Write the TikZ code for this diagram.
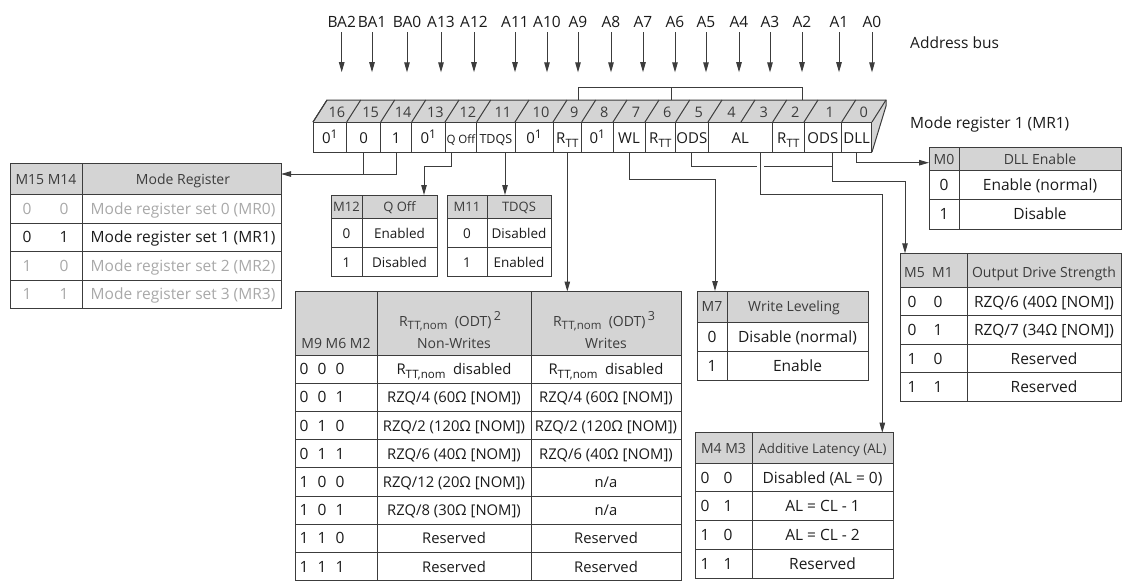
\documentclass[tikz,border=0pt]{standalone}
\usepackage{fontspec}
\setmainfont{Open Sans}
\usetikzlibrary{arrows.meta}
\definecolor{rulegray}{HTML}{3C3C3C}
\definecolor{hdrgray}{HTML}{D4D4D4}
\definecolor{faint}{HTML}{A8A8A8}
\definecolor{ink}{HTML}{1A1A1A}
\newcommand{\fsz}[1]{\fontsize{#1}{#1}\selectfont}
\newcommand{\Rtt}[1]{R\raisebox{-0.45ex}{\fsz{11.5}#1}}
\newcommand{\zsup}{0\raisebox{0.6ex}{\fsz{12}1}}
\newcommand{\odtsup}[1]{\raisebox{0.8ex}{\fsz{12.5}#1}}

\begin{document}
\begin{tikzpicture}[x=1pt,y=-1pt,
    wire/.style={draw=rulegray, line width=1pt},
    feed/.style={wire, -{Triangle[length=10pt,width=5.5pt]}},
    tabline/.style={draw=rulegray, line width=0.9pt},
    txt/.style={anchor=base, inner sep=0pt, text=ink, font=\fsz{15.5}},
    hd/.style={txt, text=rulegray, font=\fsz{14}},
    sm/.style={txt, font=\fsz{13.5}},
    cellbox/.style={draw=rulegray, line width=0.9pt, fill=white, inner sep=0pt,
      minimum height=30pt, text height=13pt, text depth=0pt, text=ink, font=\fsz{15}}]
    \useasboundingbox (0,0) rectangle (1127,582);

    % --- address bus ---
    \foreach \nm/\xx in {BA2/341.7, BA1/372, BA0/407, A13/441, A12/474, A11/515, A10/547, A9/578,
        A8/611, A7/643, A6/675, A5/706, A4/739, A3/770, A2/802, A1/839, A0/872} {
      \node[txt, font=\fsz{15.5}] (ad\nm) at (\xx,27) {\nm};
      \draw[feed] ([yshift=-5pt]ad\nm.south) -- ++(0,40);
    }
    \node[txt, anchor=base west] (busname) at (910,48) {Address bus};
    \node[txt, anchor=base west] (regname) at (910,128) {Mode register 1 (MR1)};

    % --- register (MR1) ---
    \fill[hdrgray] (313,122) -- (327,100) -- (886,100) -- (872,122) -- cycle;
    \fill[hdrgray] (872,122) -- (886,100) -- (886,106) -- (872,152) -- cycle;
    \draw[wire] (313,122) -- (327,100) -- (886,100) -- (886,106) -- (872,152);
    \draw[wire] (872,122) -- (886,100);
    \foreach \xa/\xb/\bt in {313/346.7/16, 346.7/380.7/15, 380.7/411.7/14, 411.7/445/13, 445/476.7/12,
        476.7/515/11, 515/553/10, 553/581.7/9, 581.7/613/8, 613/645/7, 645/675.7/6, 675.7/708/5,
        708/741/4, 741/772.7/3, 772.7/804/2, 804/841.7/1, 841.7/871.7/0} {
      \draw[wire] (\xa,122) -- ++(14,-22);
      \node[txt, text=rulegray, font=\fsz{14.5}] (top\bt) at ({(\xa+\xb)/2+7},117) {\bt};
    }
    \foreach \xa/\xb/\nm/\txt in {313/346.7/b16/\zsup, 346.7/380.7/b15/0, 380.7/411.7/b14/1,
        411.7/445/b13/\zsup, 445/476.7/b12/{\fsz{11.5}Q Off}, 476.7/515/b11/{\fsz{12.5}TDQS},
        515/553/b10/\zsup, 553/581.7/b9/\Rtt{TT}, 581.7/613/b8/\zsup, 613/645/b7/WL,
        645/675.7/b6/\Rtt{TT}, 675.7/708/b5/ODS, 708/772.7/b43/AL, 772.7/804/b2/\Rtt{TT},
        804/841.7/b1/ODS, 841.7/871.7/b0/DLL}
      \node[cellbox, minimum width={(\xb-\xa)*1pt}] (\nm) at ({(\xa+\xb)/2},137) {\txt};
    % R_TT bits 9, 6, 2
    \coordinate (rtta) at (578,100);
    \coordinate (rttb) at (671,100);
    \coordinate (rttc) at (802,100);
    \draw[wire] (rtta) -- ++(0,-13) -| (rttc);
    \draw[wire] (rttb) -- ++(0,-13);

    % --- entry points of the tables ---
    \coordinate (mrin) at (281,174);
    \coordinate (qoffin) at (424,195);
    \coordinate (tdqsin) at (505,195);
    \coordinate (rttin) at (567.3,291.5);
    \coordinate (wlin) at (715,291);
    \coordinate (alin) at (882.3,432.7);
    \coordinate (odsin) at (905,253.3);
    \coordinate (dllin) at (929,162.7);

    % --- connectors ---
    \draw[wire] (b15.south) -- (b15.south |- mrin);
    \draw[feed] (b14.south) |- (mrin);
    \draw[feed] ([xshift=-9pt]b12.south) -- ++(0,14) -| (qoffin);
    \draw[feed] (tdqsin |- b11.south) -- (tdqsin);
    \draw[feed] (rttin |- b9.south) -- (rttin);
    \draw[feed] (b7.south) -- ++(0,27.3) -| (wlin);
    \draw[wire] (b5.south) -- ++(0,13.7) -| ([xshift=10pt]b1.south);
    \draw[feed] ([xshift=10pt]b1.south) -- ++(0,28.7) -| (odsin);
    \draw[white, line width=7pt] ([xshift=20pt]b43.south) ++(0,10) -- ++(0,7.4);
    \draw[feed] ([xshift=20pt]b43.south) -- ++(0,42) -| (alin);
    \draw[feed] (b0.south) |- (dllin);

    % --- mode register table ---
    \fill[hdrgray] (10,163) rectangle (281,194);
    \draw[tabline] (10,163) rectangle (281,308);
    \draw[tabline] (82,163) -- (82,308);
    \foreach \yy in {194,223,251,280} \draw[tabline] (10,\yy) -- (281,\yy);
    \node[hd] (mr-h1) at (46,184) {M15 M14};
    \node[hd] (mr-h2) at (183,184) {Mode Register};
    \foreach \i/\yy/\ma/\mb/\cc in {0/214/0/0/faint, 1/242.5/0/1/ink, 2/271/1/0/faint, 3/299.5/1/1/faint} {
      \node[txt, text=\cc] (mr-\i a) at (27,\yy) {\ma};
      \node[txt, text=\cc] (mr-\i b) at (64,\yy) {\mb};
      \node[txt, text=\cc] (mr-\i c) at (183,\yy) {Mode register set \i\ (MR\i)};
    }

    % --- Q Off and TDQS tables ---
    \foreach \nm/\xa/\xm/\xb/\bit/\ttl/\va/\vb in {qoff/331/362/437/M12/Q Off/Enabled/Disabled,
        tdqs/447/487/551/M11/TDQS/Disabled/Enabled} {
      \fill[hdrgray] (\xa,195) rectangle (\xb,218);
      \draw[tabline] (\xa,195) rectangle (\xb,276);
      \draw[tabline] (\xm,195) -- (\xm,276);
      \foreach \yy in {218,247} \draw[tabline] (\xa,\yy) -- (\xb,\yy);
      \node[hd, font=\fsz{13}] (\nm-h1) at ({(\xa+\xm)/2},211.5) {\bit};
      \node[hd, font=\fsz{13}] (\nm-h2) at ({(\xm+\xb)/2},211.5) {\ttl};
      \node[sm] (\nm-0a) at ({(\xa+\xm)/2},238) {0};
      \node[sm] (\nm-0b) at ({(\xm+\xb)/2},238) {\va};
      \node[sm] (\nm-1a) at ({(\xa+\xm)/2},267) {1};
      \node[sm] (\nm-1b) at ({(\xm+\xb)/2},267) {\vb};
    }

    % --- R_TT table ---
    \fill[hdrgray] (295,291.5) rectangle (681,355);
    \draw[tabline] (295,291.5) rectangle (681,580.6);
    \draw[tabline] (377,291.5) -- (377,580.6);
    \draw[tabline] (531,291.5) -- (531,580.6);
    \foreach \yy in {355,383.2,411.4,439.6,467.8,496,524.2,552.4} \draw[tabline] (295,\yy) -- (681,\yy);
    \node[hd] (rtt-h1) at (336,348) {M9 M6 M2};
    \node[hd] (rtt-h2) at (450,326) {\Rtt{TT,nom}\ \ (ODT)\,\odtsup{2}};
    \node[hd] (rtt-h3) at (454,348) {Non-Writes};
    \node[hd] (rtt-h4) at (604,326) {\Rtt{TT,nom}\ \ (ODT)\,\odtsup{3}};
    \node[hd] (rtt-h5) at (606,348) {Writes};
    \foreach \yy/\ma/\mb/\mc/\pa/\pb [count=\i] in {
        374.6/0/0/0/{\Rtt{TT,nom}\ \ disabled}/{\Rtt{TT,nom}\ \ disabled},
        402.8/0/0/1/{RZQ/4 (60Ω [NOM])}/{RZQ/4 (60Ω [NOM])},
        431/0/1/0/{RZQ/2 (120Ω [NOM])}/{RZQ/2 (120Ω [NOM])},
        459.2/0/1/1/{RZQ/6 (40Ω [NOM])}/{RZQ/6 (40Ω [NOM])},
        487.4/1/0/0/{RZQ/12 (20Ω [NOM])}/{n/a},
        515.6/1/0/1/{RZQ/8 (30Ω [NOM])}/{n/a},
        543.8/1/1/0/Reserved/Reserved,
        572/1/1/1/Reserved/Reserved} {
      \node[txt] (rtt-\i a) at (304,\yy) {\ma};
      \node[txt] (rtt-\i b) at (322,\yy) {\mb};
      \node[txt] (rtt-\i c) at (340,\yy) {\mc};
      \node[txt, font=\fsz{14.8}] (rtt-\i d) at (454,\yy) {\pa};
      \node[txt, font=\fsz{14.8}] (rtt-\i e) at (606,\yy) {\pb};
    }

    % --- write leveling table ---
    \fill[hdrgray] (697,291) rectangle (868,322);
    \draw[tabline] (697,291) rectangle (868,380);
    \draw[tabline] (727,291) -- (727,380);
    \draw[tabline] (697,351) -- (868,351);
    \draw[tabline] (697,322) -- (868,322);
    \node[hd] (wl-h1) at (712,311.5) {M7};
    \node[hd] (wl-h2) at (794,311.5) {Write Leveling};
    \node[txt] (wl-0a) at (712,342) {0};
    \node[txt] (wl-0b) at (797.5,342) {Disable (normal)};
    \node[txt] (wl-1a) at (712,371) {1};
    \node[txt] (wl-1b) at (797.5,371) {Enable};

    % --- additive latency table ---
    \fill[hdrgray] (695,432.7) rectangle (893,463.3);
    \draw[tabline] (695,432.7) rectangle (893,578);
    \draw[tabline] (752,432.7) -- (752,578);
    \foreach \yy in {463.3,491.7,520,549} \draw[tabline] (695,\yy) -- (893,\yy);
    \node[hd] (al-h1) at (723.5,453) {M4 M3};
    \node[hd, font=\fsz{13.3}] (al-h2) at (822.5,453) {Additive Latency (AL)};
    \foreach \yy/\ma/\mb/\pa [count=\i] in {483/0/0/{Disabled (AL = 0)}, 511.4/0/1/{AL = CL - 1},
        540/1/0/{AL = CL - 2}, 569/1/1/Reserved} {
      \node[txt] (al-\i a) at (705,\yy) {\ma};
      \node[txt] (al-\i b) at (728,\yy) {\mb};
      \node[txt] (al-\i c) at (822.5,\yy) {\pa};
    }

    % --- DLL table ---
    \fill[hdrgray] (929,147) rectangle (1121,170.7);
    \draw[tabline] (929,147) rectangle (1121,229);
    \draw[tabline] (959,147) -- (959,229);
    \draw[tabline] (929,199) -- (1121,199);
    \draw[tabline] (929,170.7) -- (1121,170.7);
    \node[hd] (dll-h1) at (944,164) {M0};
    \node[hd] (dll-h2) at (1040,164) {DLL Enable};
    \node[txt] (dll-0a) at (944,190.5) {0};
    \node[txt] (dll-0b) at (1040,190.5) {Enable (normal)};
    \node[txt] (dll-1a) at (944,219.5) {1};
    \node[txt] (dll-1b) at (1040,219.5) {Disable};

    % --- output drive strength table ---
    \fill[hdrgray] (900.7,253.3) rectangle (1121,287.3);
    \draw[tabline] (900.7,253.3) rectangle (1121,401);
    \draw[tabline] (967,253.3) -- (967,401);
    \foreach \yy in {287.3,315.5,344,372.5} \draw[tabline] (900.7,\yy) -- (1121,\yy);
    \node[hd] (ods-h1) at (928.5,277) {M5\ \ M1};
    \node[hd] (ods-h2) at (1044,277) {Output Drive Strength};
    \foreach \yy/\ma/\mb/\pa [count=\i] in {307/0/0/{RZQ/6 (40Ω [NOM])}, 335.5/0/1/{RZQ/7 (34Ω [NOM])},
        364/1/0/Reserved, 392.5/1/1/Reserved} {
      \node[txt] (ods-\i a) at (912,\yy) {\ma};
      \node[txt] (ods-\i b) at (938,\yy) {\mb};
      \node[txt] (ods-\i c) at (1044,\yy) {\pa};
    }
\end{tikzpicture}
\end{document}
